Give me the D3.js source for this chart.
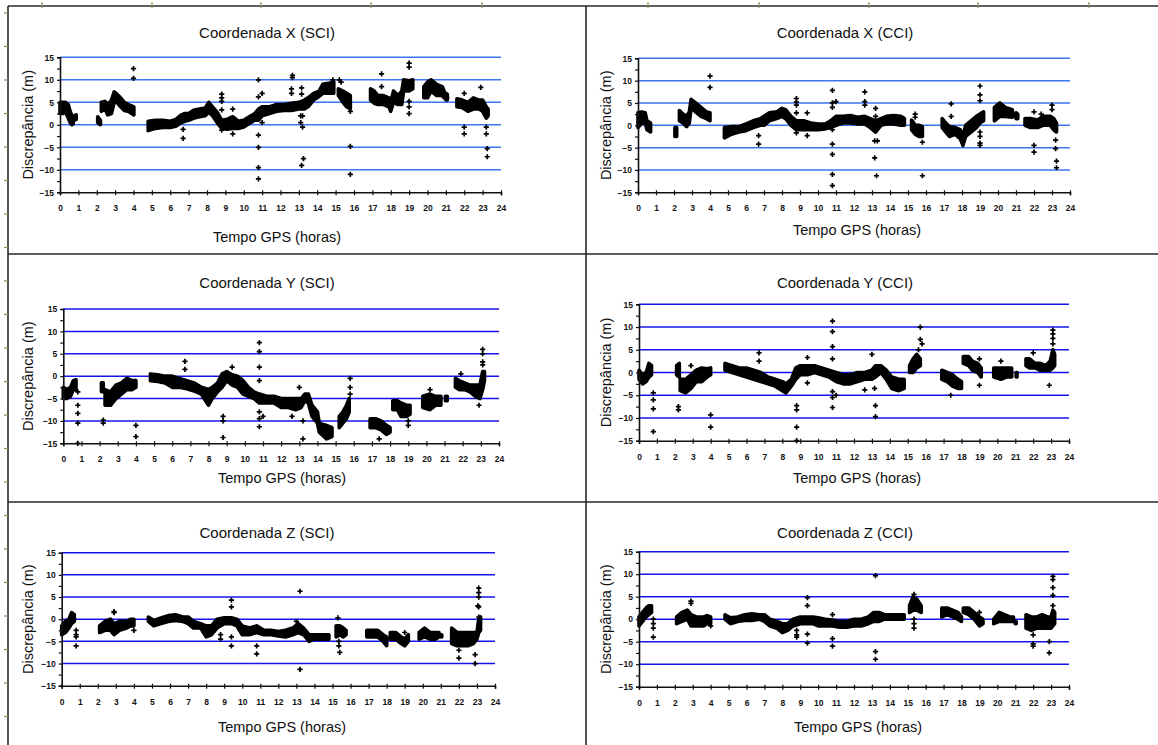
<!DOCTYPE html>
<html><head><meta charset="utf-8">
<script src="https://cdn.jsdelivr.net/npm/d3@7"></script>
<style>
html,body{margin:0;padding:0;background:#fff;}
svg{display:block;}
</style></head>
<body>
<svg id="c" width="1158" height="745"></svg>
<script>
// ---------- data ----------
const hourTicks = d3.range(0, 25, 1);
const valueTicks = [-15, -10, -5, 0, 5, 10, 15];
const gridValues = [-10, -5, 0, 5, 10, 15];
const titles = ["Coordenada X (SCI)", "Coordenada X (CCI)", "Coordenada Y (SCI)", "Coordenada Y (CCI)", "Coordenada Z (SCI)", "Coordenada Z (CCI)"];
const xLabel = "Tempo GPS (horas)";
const yLabel = "Discrepância (m)";

// dense clouds: [hour, low, high]; null = gap
const xSciBand = [[0.00,2.5,5.0],[0.15,2.5,5.0],[0.30,2.8,5.0],[0.45,1.5,4.5],[0.55,0.5,3.0],[0.65,0.0,2.0],[0.72,0.3,1.5],null,
[0.78,1.0,2.0],[0.88,1.2,2.2],null,[2.05,0.5,1.8],[2.20,0.0,1.0],null,
[2.25,3.0,5.0],[2.45,3.5,5.2],[2.6,2.2,4.5],[2.8,2.5,5.5],[2.95,5.0,7.3],[3.1,5.0,6.8],[3.3,4.0,6.0],[3.5,3.2,5.0],[3.7,3.0,4.5],[3.9,2.5,4.2],[4.02,2.2,4.0],null,
[4.8,-1.3,0.8],[5.2,-0.8,1.0],[5.6,-0.6,1.0],[6.0,-0.6,0.8],[6.3,-0.3,1.2],[6.6,0.5,2.2],[6.8,0.8,2.5],[7.0,1.0,2.5],[7.3,1.5,3.3],[7.6,1.8,3.5],[7.9,2.0,3.7],[8.1,2.8,5.0],[8.3,2.0,4.0],[8.55,0.5,2.8],[8.8,-0.8,1.0],[9.1,-1.0,1.2],[9.4,-0.8,1.8],[9.7,-0.8,0.8],[10.0,-0.5,1.0],[10.3,0.3,1.8],[10.6,1.0,2.5],[10.8,1.0,3.5],[11.0,2.0,4.0],[11.4,2.5,4.0],[11.8,3.0,4.5],[12.2,3.2,4.5],[12.6,3.2,4.8],[13.0,3.5,5.0],[13.3,3.5,5.5],[13.5,4.0,6.0],[13.8,5.5,7.0],[14.1,6.3,7.5],[14.3,7.0,9.0],[14.6,7.0,9.2],[14.9,7.0,9.5],null,
[15.15,6.5,8.0],[15.4,5.0,7.5],[15.6,4.0,7.0],[15.8,3.5,6.5],null,
[16.9,5.5,8.0],[17.1,4.8,7.5],[17.3,4.5,6.5],[17.6,4.5,6.5],[17.9,4.0,6.0],[18.0,3.0,5.0],[18.15,5.0,7.5],[18.4,4.5,6.5],[18.6,4.5,7.5],[18.7,7.5,10.0],[19.0,7.5,9.8],[19.2,8.0,10.0],null,
[19.8,6.0,8.5],[20.0,6.0,9.5],[20.2,7.5,10.0],[20.5,6.5,9.0],[20.8,6.5,8.5],[20.9,6.0,7.5],null,
[21.0,5.5,7.0],[21.08,5.5,6.8],null,
[21.6,4.0,5.8],[21.9,3.8,5.5],[22.2,3.0,5.0],[22.5,3.5,6.0],[22.8,3.5,5.5],[23.0,3.0,5.5],[23.2,1.5,4.0],[23.3,2.0,3.5]];
const xSciOut = [[4.0,12.5],[4.0,10.3],[6.7,-1.0],[6.7,-3.0],[8.8,6.8],[8.8,6.0],[8.8,5.2],[8.8,3.3],[8.8,-1.2],[9.4,3.5],[9.4,-2.0],[10.8,10.0],[10.8,6.2],[10.8,-2.3],[10.8,-5.0],[10.8,-9.5],[10.8,-12.0],[11.0,7.0],[11.0,0.5],[12.65,11.0],[12.65,10.5],[12.6,8.0],[12.6,7.0],[13.15,8.2],[13.15,6.8],[13.1,2.0],[13.1,0.5],[13.2,-0.5],[13.2,2.0],[13.25,-7.5],[13.15,-9.0],[14.85,10.0],[15.2,10.0],[15.3,9.5],[15.8,3.0],[15.8,-4.8],[15.8,-11.0],[17.5,11.3],[17.5,8.5],[19.0,13.7],[19.0,12.8],[19.0,5.2],[19.0,4.0],[19.0,2.5],[21.05,6.0],[22.0,7.0],[22.0,-0.5],[22.0,-2.0],[22.9,8.3],[23.2,-0.5],[23.2,-2.0],[23.25,-5.3],[23.25,-7.1]];

const xCciBand = [[0.0,-0.5,2.8],[0.2,0.5,3.0],[0.4,0.5,2.8],[0.5,-1.0,1.0],[0.7,-1.5,0.5],null,
[2.05,-2.5,-0.5],[2.15,-2.5,-0.5],null,
[2.3,1.0,3.3],[2.5,0.5,2.5],[2.7,-0.3,2.0],[2.85,0.5,3.0],[2.95,4.0,5.8],[3.2,3.0,5.0],[3.5,2.0,4.0],[3.8,1.5,3.0],[4.0,1.0,2.8],null,
[4.8,-2.8,-0.5],[5.2,-2.0,-0.3],[5.6,-1.5,-0.3],[6.0,-1.2,0.3],[6.4,-0.5,1.0],[6.8,0.0,1.5],[7.0,0.0,2.0],[7.3,1.0,2.8],[7.7,1.5,3.0],[8.0,2.0,3.8],[8.2,1.5,3.5],[8.5,0.0,2.0],[8.8,-1.0,1.0],[9.2,-1.0,1.0],[9.6,-1.0,0.5],[10.0,-1.0,0.3],[10.4,-0.8,0.3],[10.7,-0.5,1.0],[11.0,0.0,2.0],[11.4,0.5,2.0],[11.8,0.5,2.2],[12.2,0.3,1.8],[12.6,0.3,2.0],[12.9,-0.5,1.5],[13.2,-1.5,1.0],[13.5,0.0,1.5],[13.8,0.3,2.0],[14.2,0.3,2.2],[14.6,0.0,2.0],[14.8,0.0,1.5],null,
[15.2,-1.0,1.2],[15.4,-2.0,0.0],[15.6,-2.5,0.0],[15.8,-2.5,-0.3],null,
[16.9,-0.5,1.5],[17.1,-1.5,0.5],[17.3,-2.5,-0.3],[17.6,-2.0,-0.5],[17.9,-3.0,-1.0],[18.05,-4.5,-2.5],[18.2,-2.5,0.0],[18.5,-1.5,1.0],[18.8,-0.5,2.0],[19.0,0.5,2.5],[19.2,1.0,3.0],null,
[19.8,1.0,4.0],[20.1,2.0,5.0],[20.4,2.0,4.0],[20.8,1.8,3.5],null,
[21.0,1.5,2.8],[21.1,1.5,2.5],null,
[21.5,0.0,1.5],[21.8,-0.5,1.5],[22.2,-0.5,1.2],[22.5,0.0,2.0],[22.9,0.0,2.0],[23.1,-1.0,1.5],[23.25,-1.5,0.5]];
const xCciOut = [[4.0,11.0],[4.0,8.5],[6.7,-2.3],[6.7,-4.2],[8.8,6.0],[8.8,5.2],[8.8,4.5],[8.8,2.8],[8.8,-1.7],[9.4,2.8],[9.4,-2.3],[10.8,7.8],[10.8,5.0],[10.8,4.0],[10.8,-1.0],[10.8,-4.2],[10.8,-6.5],[10.8,-11.0],[10.8,-13.5],[11.0,5.3],[12.6,7.5],[12.6,5.3],[12.6,4.5],[13.2,3.8],[13.2,2.0],[13.15,-3.5],[13.3,-3.5],[13.15,-7.3],[13.25,-11.3],[15.4,2.5],[15.4,1.8],[15.8,-3.8],[15.8,-11.3],[17.4,4.8],[17.4,2.0],[19.0,8.8],[19.0,6.8],[19.0,5.5],[19.0,-1.5],[19.0,-2.5],[19.0,-4.0],[19.0,-4.5],[22.0,3.0],[22.0,-4.5],[22.0,-6.0],[22.4,2.5],[23.0,4.5],[23.0,3.5],[23.2,-3.3],[23.2,-5.2],[23.25,-8.0],[23.25,-9.5]];

const ySciBand = [[0.0,-5.0,-2.5],[0.2,-5.0,-3.0],[0.4,-4.5,-2.5],[0.55,-3.0,-1.0],[0.7,-3.0,-0.8],null,
[2.1,-3.5,-1.5],[2.2,-3.5,-1.5],null,
[2.3,-6.5,-3.0],[2.6,-6.5,-3.5],[2.9,-5.0,-2.0],[3.2,-4.0,-1.5],[3.5,-3.0,-0.5],[3.8,-3.0,-1.0],[4.0,-2.5,-1.0],null,
[4.8,-1.0,0.5],[5.2,-1.2,0.3],[5.6,-1.5,0.0],[6.0,-2.5,0.0],[6.4,-2.5,-0.5],[6.8,-2.8,-1.0],[7.2,-3.3,-1.5],[7.6,-4.0,-2.5],[8.0,-6.5,-3.0],[8.2,-5.0,-2.5],[8.5,-3.5,-1.5],[8.75,-2.5,0.5],[9.0,-1.0,1.0],[9.3,-2.0,0.3],[9.6,-2.5,0.0],[9.9,-4.0,-1.0],[10.2,-4.5,-2.5],[10.5,-5.0,-3.5],[10.8,-6.0,-4.0],[11.2,-6.0,-4.5],[11.6,-6.0,-4.5],[12.0,-7.0,-5.0],[12.4,-7.0,-5.0],[12.8,-7.5,-5.0],[13.1,-7.0,-5.0],[13.3,-5.5,-4.0],[13.5,-6.0,-4.0],[13.7,-9.0,-6.5],[14.0,-10.5,-8.0],[14.1,-12.5,-10.5],[14.5,-14.0,-11.0],[14.8,-13.5,-11.5],null,
[15.2,-11.5,-9.0],[15.4,-10.5,-8.0],[15.6,-9.5,-6.5],[15.75,-8.0,-5.0],null,
[16.9,-11.5,-9.5],[17.2,-11.5,-9.5],[17.5,-12.0,-10.0],[17.8,-13.0,-11.0],[18.0,-12.5,-11.5],null,
[18.15,-7.5,-5.5],[18.4,-7.5,-5.5],[18.6,-9.0,-6.0],[18.9,-9.0,-6.5],[19.1,-8.5,-6.5],null,
[19.8,-7.0,-4.5],[20.2,-7.5,-4.0],[20.5,-6.5,-4.5],[20.8,-6.5,-4.5],null,
[21.05,-5.5,-4.5],[21.15,-5.5,-4.5],null,
[21.6,-2.5,-0.5],[21.8,-3.0,-1.0],[22.1,-3.0,-1.5],[22.4,-3.5,-2.0],[22.7,-4.5,-2.0],[22.95,-5.0,-2.0],[23.1,-3.0,1.0],[23.2,-1.0,1.0]];
const ySciOut = [[0.8,-3.5],[0.8,-6.5],[0.8,-8.3],[0.8,-10.5],[0.8,-15.0],[2.2,-9.8],[2.2,-10.5],[4.0,-11.0],[4.0,-13.5],[6.7,3.3],[6.7,1.5],[8.8,-9.0],[8.8,-10.0],[8.8,-13.7],[9.3,2.0],[10.8,7.5],[10.8,5.5],[10.8,2.0],[10.8,-1.0],[10.8,-8.0],[10.8,-9.5],[10.8,-11.3],[11.0,-9.0],[12.6,-9.0],[13.0,-2.5],[13.2,-10.0],[13.2,-14.0],[15.8,-0.5],[15.8,-2.5],[15.8,-4.0],[17.4,-14.0],[19.0,-10.0],[19.0,-11.0],[20.2,-3.0],[21.9,0.5],[22.9,-6.5],[23.1,6.0],[23.1,5.0],[23.1,3.2],[23.1,2.5]];

const yCciBand = [[0.0,-1.5,0.5],[0.2,-2.5,-0.5],[0.4,-2.0,0.0],[0.55,-1.0,2.0],[0.7,-0.5,1.5],null,
[2.1,-0.5,1.5],[2.25,-1.0,2.0],null,
[2.3,-4.0,-1.5],[2.6,-4.5,-1.5],[2.9,-3.5,-0.5],[3.2,-2.0,0.5],[3.5,-2.0,1.0],[3.8,-1.0,0.8],[4.0,-0.5,1.0],null,
[4.8,0.5,2.0],[5.2,0.0,1.5],[5.6,-0.5,1.0],[6.0,-1.0,1.0],[6.4,-1.5,0.5],[6.8,-2.0,0.0],[7.2,-2.5,-1.0],[7.6,-3.0,-1.5],[8.0,-4.0,-2.0],[8.2,-4.5,-2.5],[8.5,-3.0,-1.5],[8.75,-1.5,1.0],[9.0,-0.5,1.5],[9.4,-0.5,1.5],[9.8,0.0,1.5],[10.2,-0.5,1.0],[10.6,-1.0,0.5],[11.0,-2.0,0.0],[11.4,-2.5,-0.5],[11.8,-2.5,-0.5],[12.2,-2.0,0.0],[12.6,-1.5,0.0],[13.0,-1.5,0.5],[13.2,-1.0,1.5],[13.5,0.0,1.5],[13.8,-1.5,0.5],[14.1,-3.5,-1.0],[14.5,-4.0,-1.5],[14.8,-3.5,-1.5],null,
[15.1,0.0,1.5],[15.3,0.0,3.0],[15.5,1.0,4.0],[15.7,1.5,3.0],null,
[16.9,-1.5,0.5],[17.2,-2.0,0.0],[17.5,-3.0,-0.5],[17.8,-3.5,-1.5],[18.0,-3.5,-2.0],null,
[18.1,2.0,3.5],[18.4,1.5,3.5],[18.6,0.5,2.5],[18.9,0.0,2.0],[19.1,-1.0,1.0],null,
[19.8,-1.0,1.0],[20.2,-1.5,1.0],[20.5,-1.0,1.0],[20.8,-1.0,1.0],null,
[21.05,-1.0,0.0],[21.1,-1.0,0.0],null,
[21.6,1.5,3.0],[21.8,1.0,3.0],[22.1,1.0,2.0],[22.4,0.5,2.0],[22.7,0.5,1.5],[22.95,0.5,2.5],[23.1,1.0,5.0],[23.2,1.5,4.0]];
const yCciOut = [[0.8,-4.5],[0.8,-6.0],[0.8,-8.0],[0.8,-13.0],[2.2,-7.5],[2.2,-8.2],[2.9,1.5],[4.0,-9.3],[4.0,-12.0],[6.7,4.3],[6.7,2.5],[8.8,-7.3],[8.8,-8.2],[8.8,-12.0],[8.8,-15.0],[9.4,3.3],[9.4,-2.3],[10.8,11.3],[10.8,9.0],[10.8,5.7],[10.8,3.0],[10.8,-4.2],[10.8,-5.5],[10.8,-7.7],[11.0,-5.0],[12.6,-3.8],[13.0,4.0],[13.15,-3.5],[13.2,-7.3],[13.2,-9.7],[15.7,10.0],[15.7,7.3],[15.8,6.3],[15.6,5.0],[17.4,-5.0],[19.0,3.0],[19.0,-2.8],[20.2,2.5],[22.0,4.3],[22.9,-2.8],[23.1,9.3],[23.1,8.5],[23.1,7.5],[23.1,6.3]];

const zSciBand = [[0.0,-3.5,-1.5],[0.2,-3.0,-0.5],[0.4,-2.0,0.0],[0.55,-1.0,1.5],[0.7,-0.5,1.0],null,
[2.1,-3.0,-1.5],[2.4,-2.5,-0.5],[2.7,-2.5,0.0],[2.9,-3.5,-1.0],[3.2,-2.5,-0.5],[3.6,-2.0,-0.5],[3.8,-1.5,0.0],[4.0,-1.5,0.0],null,
[4.8,-0.5,0.5],[5.1,-1.5,-0.3],[5.5,-1.0,0.3],[5.9,-0.5,0.8],[6.3,-0.3,1.0],[6.7,-0.5,0.5],[7.0,-1.0,0.5],[7.3,-2.0,-0.5],[7.7,-2.0,-1.0],[8.0,-4.0,-1.5],[8.3,-3.5,-1.5],[8.6,-2.0,0.0],[9.0,-1.0,0.3],[9.4,-1.0,0.3],[9.7,-1.5,0.0],[10.0,-3.5,-1.5],[10.4,-3.5,-2.0],[10.8,-3.0,-1.5],[11.2,-3.5,-2.5],[11.6,-3.5,-2.5],[12.0,-3.8,-2.8],[12.4,-4.0,-2.5],[12.8,-3.5,-2.0],[13.1,-3.0,-1.0],[13.4,-3.5,-2.0],[13.7,-5.0,-3.5],[14.0,-4.5,-3.5],[14.4,-4.5,-3.5],[14.8,-4.5,-3.5],null,
[15.2,-4.0,-1.5],[15.4,-3.5,-1.5],[15.6,-4.0,-2.0],[15.75,-3.5,-2.5],null,
[16.9,-4.0,-2.5],[17.2,-4.0,-2.5],[17.5,-4.0,-2.5],[17.8,-5.0,-3.5],[18.0,-6.0,-4.0],null,
[18.2,-4.5,-3.0],[18.5,-4.5,-3.0],[18.8,-5.5,-4.0],[19.0,-6.0,-4.5],[19.2,-5.0,-3.5],null,
[19.8,-4.5,-3.0],[20.1,-4.0,-2.0],[20.4,-4.5,-3.0],[20.7,-4.5,-3.0],[20.9,-4.0,-3.0],null,
[21.0,-4.0,-3.5],[21.05,-4.0,-3.5],null,
[21.6,-5.5,-2.0],[21.9,-6.0,-3.0],[22.2,-6.0,-3.0],[22.5,-6.0,-3.0],[22.8,-5.5,-3.0],[23.0,-4.5,-3.0],[23.1,-3.0,0.0],[23.2,-2.5,0.5]];
const zSciOut = [[0.8,-2.5],[0.8,-3.5],[0.8,-4.0],[0.8,-6.0],[2.9,1.5],[2.9,1.7],[4.0,-2.5],[8.8,-3.5],[8.8,-4.5],[9.4,4.3],[9.4,2.8],[9.4,-4.0],[9.4,-6.0],[10.8,-6.0],[10.8,-7.8],[13.2,6.3],[13.2,-11.3],[13.0,-0.5],[15.35,-5.0],[15.35,-6.0],[15.4,-7.5],[15.3,0.3],[19.0,-3.0],[22.0,-7.0],[22.0,-8.8],[22.9,-8.0],[22.9,-10.0],[23.1,7.0],[23.1,6.0],[23.1,5.0],[23.05,3.0],[23.1,2.8],[23.1,0.5]];

const zCciBand = [[0.0,-1.5,0.5],[0.2,-0.5,1.5],[0.4,0.5,2.5],[0.55,1.0,3.0],[0.7,1.5,3.0],null,
[2.1,-1.0,0.5],[2.4,-0.5,1.5],[2.7,0.0,2.0],[2.9,-1.5,1.0],[3.2,-1.5,0.5],[3.6,-1.5,0.5],[3.8,-1.0,0.8],[4.0,-1.0,0.5],null,
[4.8,0.0,1.0],[5.1,-1.0,0.3],[5.5,-0.5,0.5],[5.9,-0.3,1.0],[6.3,-0.3,1.2],[6.7,0.0,1.0],[7.0,-0.5,1.0],[7.3,-1.5,0.0],[7.7,-2.0,-0.5],[8.0,-3.0,-1.0],[8.3,-2.5,-1.0],[8.6,-1.5,0.0],[9.0,-1.0,0.5],[9.4,-1.0,0.5],[9.7,-1.0,0.5],[10.0,-1.5,0.3],[10.4,-1.5,0.0],[10.8,-1.5,-0.2],[11.2,-1.8,-0.5],[11.6,-1.8,-0.5],[12.0,-1.5,0.0],[12.4,-1.5,0.0],[12.8,-1.0,0.5],[13.1,-0.5,1.5],[13.4,-0.5,1.5],[13.7,0.0,1.0],[14.0,0.0,1.0],[14.4,0.0,1.0],[14.8,0.0,1.0],null,
[15.1,1.5,3.0],[15.3,2.0,5.0],[15.5,2.0,4.5],[15.75,1.5,3.0],null,
[16.9,0.5,2.5],[17.2,1.0,2.5],[17.5,0.5,2.0],[17.8,0.0,1.5],[18.0,-0.5,0.5],null,
[18.1,1.5,2.5],[18.4,1.0,2.5],[18.7,0.0,1.5],[19.0,-1.5,0.5],[19.2,-1.0,0.0],null,
[19.8,-1.0,0.0],[20.1,-0.5,1.5],[20.4,-0.5,1.0],[20.7,-0.5,0.5],[20.9,-0.5,0.5],null,
[21.0,-1.0,-0.5],[21.05,-1.0,-0.5],null,
[21.6,-2.0,1.0],[21.9,-2.5,0.5],[22.2,-2.0,0.5],[22.5,-2.0,1.0],[22.8,-2.0,0.5],[23.0,-2.0,0.5],[23.1,-1.5,2.0],[23.2,-1.0,1.5]];
const zCciOut = [[0.8,0.0],[0.8,-1.0],[0.8,-2.0],[0.8,-4.0],[2.9,4.0],[2.9,3.5],[4.0,-1.5],[8.8,-2.5],[8.8,-3.5],[8.8,-4.0],[9.4,4.8],[9.4,3.0],[9.4,-3.3],[9.4,-5.3],[10.8,1.0],[10.8,-4.3],[10.8,-6.0],[13.2,9.7],[13.2,-7.2],[13.2,-8.9],[15.35,5.5],[15.35,0.0],[15.35,-1.0],[15.35,-2.0],[19.0,1.5],[22.0,-3.5],[22.0,-5.5],[22.0,-6.0],[22.9,-5.0],[22.9,-7.5],[23.1,9.5],[23.1,8.8],[23.1,7.0],[23.1,5.3],[23.1,3.0]];

const bands = [xSciBand, xCciBand, ySciBand, yCciBand, zSciBand, zCciBand];
const outliers = [xSciOut, xCciOut, ySciOut, yCciOut, zSciOut, zCciOut];

// ---------- layout (page geometry) ----------
const layout = [
  {x0:60,   x1:501,  yT:57.3,  yB:192.3, tx:267, ty:38,  lx:277, ly:242, yl:28,  grid:"#3d74f2"},
  {x0:638,  x1:1070, yT:58.3,  yB:192.3, tx:845, ty:38,  lx:857, ly:235, yl:606, grid:"#3d74f2"},
  {x0:63.3, x1:499,  yT:309,   yB:443.3, tx:267, ty:288, lx:282, ly:483, yl:28,  grid:"#1414ee"},
  {x0:639,  x1:1069, yT:304.3, yB:440.7, tx:845, ty:288, lx:857, ly:483, yl:606, grid:"#1414ee"},
  {x0:61.7, x1:495,  yT:552.7, yB:685.7, tx:267, ty:538, lx:282, ly:732, yl:28,  grid:"#1414ee"},
  {x0:639,  x1:1069, yT:551.7, yB:686.7, tx:845, ty:538, lx:858, ly:732, yl:606, grid:"#1414ee"}
];

const svg = d3.select("#c");
const FONT = "'Liberation Sans', Arial, sans-serif";

// frame
const frame = svg.append("g").attr("stroke","#2a2a2a").attr("stroke-width",1.6).attr("fill","none");
frame.append("line").attr("x1",8).attr("x2",8).attr("y1",6).attr("y2",745);
frame.append("line").attr("x1",8).attr("x2",1158).attr("y1",6).attr("y2",6);
frame.append("line").attr("x1",8).attr("x2",1158).attr("y1",254).attr("y2",254);
frame.append("line").attr("x1",8).attr("x2",1158).attr("y1",502).attr("y2",502);
frame.append("line").attr("x1",586).attr("x2",586).attr("y1",6).attr("y2",745);
// ruler marks
const rulerTop = [42,152,261,371,482,648,759,869,978,1089];
svg.append("g").selectAll("line").data(rulerTop).join("line")
  .attr("x1",d=>d).attr("x2",d=>d).attr("y1",2).attr("y2",8)
  .attr("stroke","#8c8c5c").attr("stroke-width",1.2);
const rulerLeft = d3.range(13, 745, 33.5);
svg.append("g").selectAll("line").data(rulerLeft).join("line")
  .attr("x1",4).attr("x2",8).attr("y1",d=>d).attr("y2",d=>d)
  .attr("stroke","#8c8c5c").attr("stroke-width",1.2);

const crossPath = "M-2.6,0H2.6M0,-2.6V2.6";

layout.forEach((L, i) => {
  const g = svg.append("g");
  const x = d3.scaleLinear().domain([0,24]).range([L.x0, L.x1]);
  const y = d3.scaleLinear().domain([-15,15]).range([L.yB, L.yT]);

  // gridlines
  g.append("g").selectAll("line").data(gridValues).join("line")
    .attr("x1", x(0)).attr("x2", x(24))
    .attr("y1", d=>y(d)).attr("y2", d=>y(d))
    .attr("stroke", L.grid).attr("stroke-width", 1.5);

  // dense clouds
  const area = d3.area().defined(d => d !== null)
    .x(d => x(d[0])).y0(d => y(d[1])).y1(d => y(d[2]));
  g.append("path").datum(bands[i]).attr("d", area)
    .attr("fill","#000").attr("stroke","#000").attr("stroke-width",3.6).attr("stroke-linejoin","round");

  // outlier markers
  g.append("g").selectAll("path").data(outliers[i]).join("path")
    .attr("d", crossPath)
    .attr("transform", d => `translate(${x(d[0])},${y(d[1])})`)
    .attr("stroke","#000").attr("stroke-width",1.7).attr("fill","none");

  // y axis
  const yAxis = d3.axisLeft(y).tickValues(d3.range(-15, 15.01, 2.5)).tickSize(3)
    .tickFormat(d => (d % 5 === 0) ? d3.format("d")(d) : "");
  const ya = g.append("g").attr("transform", `translate(${x(0)},0)`).call(yAxis);
  // x axis
  const xAxis = d3.axisBottom(x).tickValues(hourTicks).tickSize(3).tickPadding(10).tickFormat(d3.format("d"));
  const xa = g.append("g").attr("transform", `translate(0,${y(-15)})`).call(xAxis);
  [ya, xa].forEach(a => {
    a.select(".domain").attr("stroke","#111").attr("stroke-width",1.6);
    a.selectAll(".tick line").attr("stroke","#111").attr("stroke-width",1.2);
    a.selectAll("text").attr("font-family",FONT).attr("font-weight","bold").attr("font-size","8.5px").attr("fill","#111");
  });
  xa.selectAll(".tick line").attr("y1",-2).attr("y2",3);
  ya.selectAll(".tick text").attr("x",-6);

  // titles & labels
  g.append("text").attr("x",L.tx).attr("y",L.ty).attr("text-anchor","middle")
    .attr("font-family",FONT).attr("font-size","15px").attr("fill","#111").text(titles[i]);
  g.append("text").attr("x",L.lx).attr("y",L.ly).attr("text-anchor","middle")
    .attr("font-family",FONT).attr("font-size","14.5px").attr("fill","#111").text(xLabel);
  const cy = (L.yT + L.yB) / 2;
  g.append("text").attr("transform",`translate(${L.yl + 5},${cy}) rotate(-90)`).attr("text-anchor","middle")
    .attr("font-family",FONT).attr("font-size","14.5px").attr("fill","#111").text(yLabel);
});
</script>
</body></html>
